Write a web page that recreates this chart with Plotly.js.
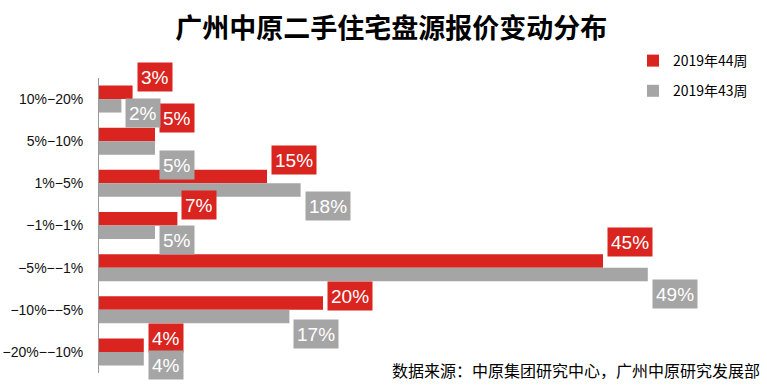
<!DOCTYPE html>
<html>
<head>
<meta charset="utf-8">
<script src="https://cdn.plot.ly/plotly-3.0.1.min.js"></script>
<style>html,body{margin:0;padding:0;background:#fff;}#chart{width:767px;height:388px;}</style>
</head>
<body>
<div id="chart"></div>
<script>
// ---- data ----
var categories = ["10%\u221220%", "5%\u221210%", "1%\u22125%", "\u22121%\u22121%", "\u22125%\u2212\u22121%", "\u221210%\u2212\u22125%", "\u221220%\u2212\u221210%"];
var week44 = [3, 5, 15, 7, 45, 20, 4];
var week43 = [2, 5, 18, 5, 49, 17, 4];
var seriesNames = ["2019年44周", "2019年43周"];

// ---- style ----
var RED = "#D9241F", GRAY = "#A5A5A5";
var FONT = "Liberation Sans, Arial, Noto Sans CJK SC, sans-serif";
var CJK = "Noto Sans CJK SC, Liberation Sans, sans-serif";
// label vertical nudges (pixels)
var redNudge = [15, 16, 16, 14, 19, 7, 7];
var grayNudge = [-7, -17, -16, -7, -19, -17, -6];

var traces = [
  {type: "bar", orientation: "h", name: seriesNames[0], y: categories, x: week44,
   marker: {color: RED}, legendgroup: "a", hoverinfo: "x"},
  {type: "bar", orientation: "h", name: seriesNames[1], y: categories, x: week43,
   marker: {color: GRAY}, legendgroup: "b", hoverinfo: "x"}
];

var annotations = [];
function addLabels(vals, color, nudge, off) {
  vals.forEach(function (v, i) {
    annotations.push({
      x: v, y: categories[i], xref: "x", yref: "y",
      text: v + "%", showarrow: false,
      xanchor: "left", yanchor: "middle",
      xshift: 4, yshift: nudge[i] + off,
      height: 22,
      bgcolor: color, borderpad: 3,
      font: {family: FONT, size: 19, color: "#ffffff"}
    });
  });
}
addLabels(week44, RED, redNudge, 7);
addLabels(week43, GRAY, grayNudge, -7);

annotations.push({
  xref: "paper", yref: "paper", x: (762 - 99) / 560, y: (373 - 370) / 295,
  xanchor: "right", yanchor: "middle", showarrow: false,
  text: "数据来源：中原集团研究中心，广州中原研究发展部",
  font: {family: CJK, size: 16, color: "#000000"}
});

var layout = {
  width: 767, height: 388,
  margin: {l: 99, r: 108, t: 78, b: 15},
  paper_bgcolor: "#ffffff", plot_bgcolor: "#ffffff",
  barmode: "group", bargap: 0.36, bargroupgap: 0,
  title: {text: "<b>广州中原二手住宅盘源报价变动分布</b>", x: 0.51, xanchor: "center",
          y: 1 - 29 / 388, yanchor: "middle", yref: "container",
          font: {family: CJK, size: 27, color: "#000000"}},
  xaxis: {range: [0, 50], autorange: false, visible: false, showgrid: false, zeroline: false, fixedrange: true},
  yaxis: {type: "category", range: [categories.length - 0.5, -0.5], autorange: false,
          showline: true, linecolor: "#999999", linewidth: 1,
          showgrid: false, zeroline: false, ticks: "", ticklabelstandoff: 12,
          tickfont: {family: FONT, size: 14, color: "#111111"}},
  showlegend: true,
  legend: {x: (633 - 99) / 560, y: (373 - 45) / 295, xanchor: "left", yanchor: "top",
           traceorder: "grouped", tracegroupgap: 9, bgcolor: "rgba(0,0,0,0)",
           font: {family: CJK, size: 14, color: "#000000"}},
  annotations: annotations
};

Plotly.newPlot("chart", traces, layout, {displayModeBar: false, staticPlot: true});
</script>
</body>
</html>
